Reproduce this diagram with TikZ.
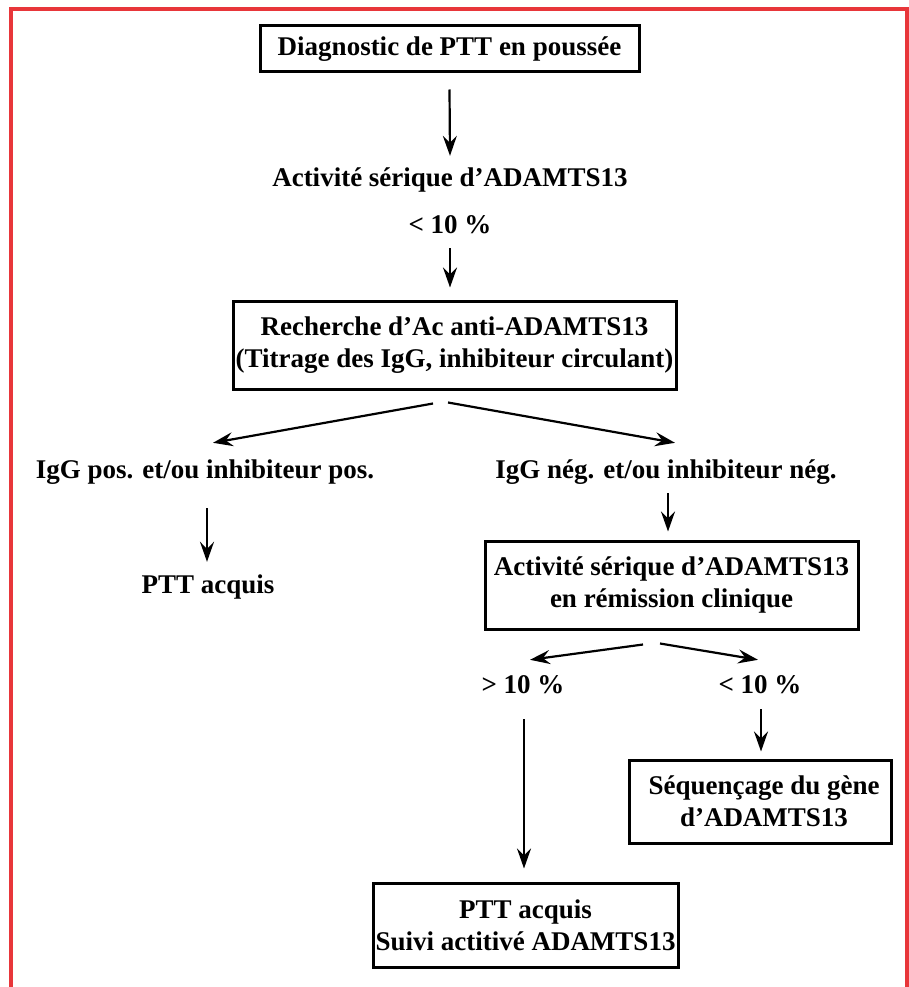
\documentclass[tikz,border=0pt]{standalone}
\usepackage{fontspec}
\setmainfont{Liberation Serif}
\usetikzlibrary{arrows.meta,calc}
\definecolor{framered}{RGB}{232,54,58}
\begin{document}
\begin{tikzpicture}[x=1pt,y=-1pt,
  every node/.style={font=\bfseries\fontsize{27}{32}\selectfont, inner sep=0pt, align=center},
  boxnode/.style={draw, line width=3pt, minimum width=#1},
  txt/.style={text height=19pt, text depth=6pt},
  arr/.style={line width=2.2pt, -{Stealth[length=20pt,width=14pt,inset=7pt]}}]
\useasboundingbox (0,0) rectangle (909,987);
\draw[framered, line width=3.5pt] (11,990) -- (11,9) -- (907,9) -- (907,990);

\node[boxnode=379pt, minimum height=46pt] (n1) at (449.5,49) {Diagnostic de PTT en poussée};
\node[txt] (t1) at (450,180) {Activité sérique d’ADAMTS13};
\node[txt] (t2) at (450,227) {< 10 \%};
\node[boxnode=443pt, minimum height=88pt] (n2) at (454.5,345) {Recherche d’Ac anti-ADAMTS13\\(Titrage des IgG, inhibiteur circulant)};
\node[txt] (t3) at (205,472) {IgG pos. et/ou inhibiteur pos.};
\node[txt] (t4) at (666,472) {IgG nég. et/ou inhibiteur nég.};
\node[txt] (t5) at (208,587) {PTT acquis};
\node[boxnode=373pt, minimum height=88pt] (n3) at (671.5,585) {Activité sérique d’ADAMTS13\\en rémission clinique};
\node[txt] (t6) at (523,687) {> 10 \%};
\node[txt] (t7) at (760,687) {< 10 \%};
\node[boxnode=262pt, minimum height=83pt] (n4) at (760,801.5) {\hspace*{8pt}Séquençage du gène\\\hspace*{8pt}d’ADAMTS13};
\node[boxnode=305pt, minimum height=84pt] (n5) at (525.5,925) {PTT acquis\\Suivi actitivé ADAMTS13};

\draw[arr] ($(n1.south)+(0,16)$) -- ($(t1.north)+(0,-11.5)$);
\draw[arr] ($(t2.south)+(0,8.5)$) -- ($(n2.north)+(-4.5,-12)$);
\draw[arr] ($(n2.south)+(-21.5,13)$) -- ($(t3.north)+(8,-16.5)$);
\draw[arr] ($(n2.south)+(-6.5,12)$) -- ($(t4.north)+(9,-16.5)$);
\draw[arr] ($(t3.south)+(2,23.5)$) -- ($(t5.north)+(-1,-12.5)$);
\draw[arr] ($(t4.south)+(2,8.5)$) -- ($(n3.north)+(-3.5,-8)$);
\draw[arr] ($(n3.south)+(-28.5,14)$) -- ($(t6.north)+(7,-14.5)$);
\draw[arr] ($(n3.south)+(-11.5,13)$) -- ($(t7.north)+(-2,-14.5)$);
\draw[arr] ($(t7.south)+(1,9.5)$) -- ($(n4.north)+(1,-7)$);
\draw[arr] ($(t6.south)+(1,19.5)$) -- ($(n5.north)+(-1.5,-13)$);
\end{tikzpicture}
\end{document}
